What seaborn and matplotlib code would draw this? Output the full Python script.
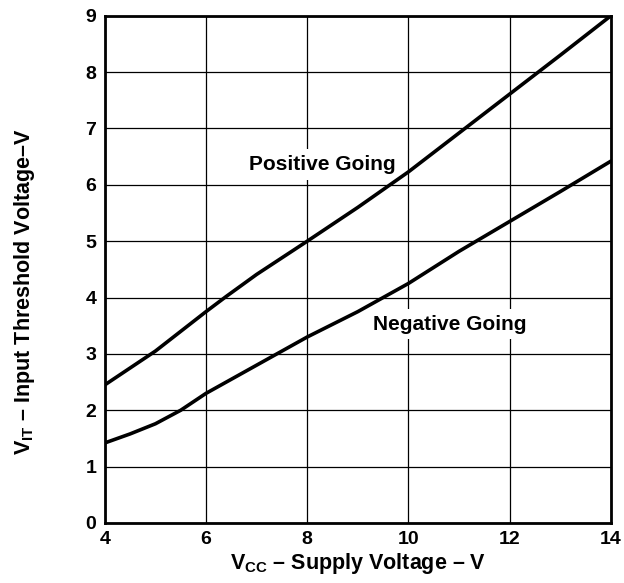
import pandas as pd
import matplotlib
matplotlib.use("Agg")
import matplotlib.pyplot as plt
import seaborn as sns

# supply voltage (V) and threshold readings (V)
vcc_pos = [4, 5, 6, 6.4, 6.6, 7, 8, 9, 10, 11, 12, 13, 14]
positive_going = [2.45, 3.05, 3.75, 4.02, 4.15, 4.41, 5.0, 5.6, 6.23, 6.92, 7.61, 8.3, 9.0]
vcc_neg = [4, 4.5, 5, 5.5, 6, 7, 8, 9, 10, 11, 12, 13, 14]
negative_going = [1.42, 1.58, 1.76, 2.0, 2.3, 2.8, 3.3, 3.75, 4.25, 4.82, 5.35, 5.88, 6.42]

x_ticks = [4, 6, 8, 10, 12, 14]
y_ticks = [0, 1, 2, 3, 4, 5, 6, 7, 8, 9]

df = pd.DataFrame({
    "vcc": vcc_pos + vcc_neg,
    "vit": positive_going + negative_going,
    "series": ["Positive Going"] * len(vcc_pos) + ["Negative Going"] * len(vcc_neg),
})

sns.set_style("white")
plt.rcParams["font.family"] = ["Liberation Sans", "DejaVu Sans"]
plt.rcParams["font.weight"] = "bold"
plt.rcParams["text.color"] = "black"
plt.rcParams["axes.labelcolor"] = "black"
plt.rcParams["xtick.color"] = "black"
plt.rcParams["ytick.color"] = "black"
plt.rcParams["mathtext.fontset"] = "custom"
plt.rcParams["mathtext.rm"] = "Liberation Sans:bold"
plt.rcParams["mathtext.bf"] = "Liberation Sans:bold"

fig = plt.figure(figsize=(6.24, 5.83), dpi=100)
ax = fig.add_axes([0.168, 0.103, 0.811, 0.870])

sns.lineplot(data=df, x="vcc", y="vit", units="series", estimator=None, sort=False,
             color="black", linewidth=2.6, ax=ax, legend=False, zorder=3)

ax.set_xlim(4, 14)
ax.set_ylim(0, 9)
ax.set_xticks(x_ticks)
ax.set_yticks(y_ticks)
ax.grid(True, color="black", linewidth=0.9, zorder=0)
ax.set_axisbelow(True)
for s in ax.spines.values():
    s.set_color("black")
    s.set_linewidth(2.0)
    s.set_zorder(4)
ax.tick_params(length=0, labelsize=14, pad=6)
for lab in ax.get_xticklabels() + ax.get_yticklabels():
    lab.set_fontweight("bold")

ax.set_xlabel(r"V$_{\mathbf{CC}}$ – Supply Voltage – V", fontsize=15.5, fontweight="bold")
ax.set_ylabel(r"V$_{\mathbf{IT}}$ – Input Threshold Voltage–V", fontsize=15.5, fontweight="bold")
ax.xaxis.set_label_coords(0.5, -0.055)
ax.yaxis.set_label_coords(-0.135, 0.456)

box = dict(facecolor="white", edgecolor="none", pad=4)
ax.text(8.29, 6.36, "Positive Going", ha="center", va="center", fontsize=15,
        fontweight="bold", bbox=box, zorder=2)
ax.text(10.82, 3.53, "Negative Going", ha="center", va="center", fontsize=15,
        fontweight="bold", bbox=box, zorder=2)

fig.savefig("out.png", dpi=100)
